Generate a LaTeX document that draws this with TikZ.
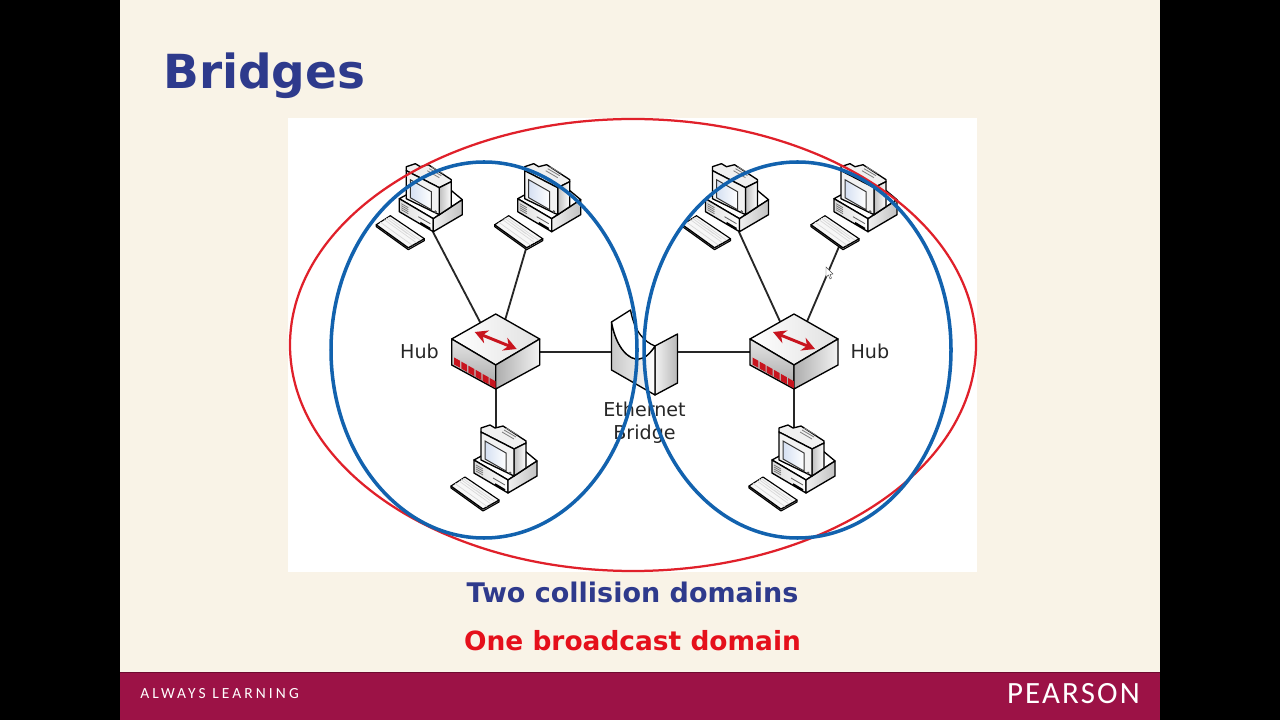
\documentclass[tikz,border=0pt]{standalone}
\usepackage{fontspec}
\setmainfont{DejaVu Sans}
\newfontfamily\footspaced[LetterSpace=20]{Carlito}
\newfontfamily\logofont[LetterSpace=7]{Carlito}
\usetikzlibrary{positioning, arrows.meta}
\definecolor{slidebg}{HTML}{F9F3E7}
\definecolor{footbar}{HTML}{9C1246}
\definecolor{footedge}{HTML}{6E0A30}
\definecolor{titleblue}{HTML}{2E3A8C}
\definecolor{ringblue}{HTML}{1262AE}
\definecolor{ringred}{HTML}{E0202A}
\definecolor{textred}{HTML}{E5101B}
\definecolor{portred}{HTML}{C8141E}
\definecolor{screenblue}{HTML}{D5E0F2}

\begin{document}
\begin{tikzpicture}[
    x=0.025cm, y=-0.025cm,
    % Define the style for each block
    devicebox/.style={rectangle, inner sep=0pt, outer sep=0pt},
    port/.style={inner sep=0pt, outer sep=0pt, minimum size=0pt},
    devline/.style={draw=black, line width=0.95pt, line join=round},
    connector/.style={draw=black!85, line width=1.3pt},
    hublabel/.style={inner sep=0pt, yshift=0.6pt, font=\fontsize{13.6}{16.4}\selectfont, text=black!85},
    bridgelabel/.style={inner sep=0pt, align=center, font=\fontsize{13.6}{16.4}\selectfont, text=black!85},
    domainline/.style={inner sep=0pt},
    ringB/.style={draw=ringblue, line width=2.5pt},
    ringR/.style={draw=ringred, line width=1.6pt},
    % One desktop computer, origin at the lowest corner of its base
    computer/.pic={
        \path[devline, fill=white] (-34,-33) -- (-10,-46) -- (17,-42) -- (29,-32) -- (0,-13) -- cycle;
        \path[devline, left color=black!14, right color=white] (-34,-33) -- (0,-13) -- (0,0) -- (-34,-20) -- cycle;
        \path[devline, left color=black!6, right color=black!24] (0,-13) -- (29,-32) -- (29,-17) -- (0,0) -- cycle;
        \draw[black!55, line width=0.5pt] (-32,-28) -- (-25,-24) (-32,-26) -- (-25,-22) (-32,-24) -- (-25,-20) (-32,-22) -- (-25,-18);
        \draw[black!60, line width=0.6pt] (-15,-15) -- (-3,-8);
        \draw[black, line width=1.2pt] (-13,-9) -- (-3,-3);
        \path[devline, fill=black!6] (-27,-61) -- (-27,-65) -- (-18,-68) -- (-13,-65) -- (-5,-67) -- (18,-52) -- (18,-50) -- (6,-44) -- cycle;
        \path[devline, left color=black!25, right color=white] (6,-44) -- (18,-50) -- (18,-25) -- (6,-17) -- cycle;
        \path[devline, fill=black!5] (-27,-61) -- (6,-44) -- (6,-17) -- (-27,-33) -- cycle;
        \path[draw=black!80, line width=0.7pt, left color=screenblue, right color=white] (-23,-52) -- (-2,-40) -- (-2,-22) -- (-23,-34) -- cycle;
        \draw[black!50, line width=0.6pt] (-4,-63) -- (8,-56) (-2,-65) -- (10,-58) (-6,-61) -- (6,-54);
        \draw[black!70, line width=0.5pt] (2,-20) circle (1);
        \path[devline, line width=0.8pt, fill=black!12] (-57,-7) -- (-25,16) -- (-9,7) -- (-9,9) -- (-25,18) -- (-57,-5) -- cycle;
        \path[devline, line width=0.8pt, fill=black!3] (-57,-7) -- (-43,-16) -- (-9,7) -- (-25,16) -- cycle;
        \draw[black!15, line width=0.5pt] (-53,-9.5) -- (-21,13.5) (-49,-12) -- (-17,11) (-45,-14.5) -- (-13,8.5)
            (-47,-13.5) -- (-33,-3) (-40,-8.5) -- (-26,2) (-32,-3) -- (-18,7.5);
    },
    % One hub, origin at the centre of its outline
    hub/.pic={
        \path[devline, left color=white, right color=black!12] (0,-38) -- (44,-13) -- (0,13) -- (-44,-13) -- cycle;
        \path[devline, top color=black!10, bottom color=black!35] (-44,-13) -- (0,13) -- (0,37) -- (-44,13) -- cycle;
        \path[devline, left color=black!32, right color=black!5] (0,13) -- (44,-13) -- (44,13) -- (0,37) -- cycle;
        \foreach \n in {0,...,5}
            \fill[portred] (-41.5+7.1*\n,5.5+4.1*\n) -- ++(5.9,3.3) -- ++(0,7) -- ++(-5.9,-3.3) -- cycle;
        \draw[portred, line width=2.1pt, {Stealth[length=3.2mm, width=3.4mm]}-{Stealth[length=3.2mm, width=3.4mm]}] (-21,-20) -- (21,-3);
    },
    % The bridge block, origin at the centre of its outline
    bridge/.pic={
        \path[devline, left color=black!5, right color=black!28] (10.5,-6) -- (33,-18) -- (33,31) -- (10.5,43) -- cycle;
        \path[devline, left color=black!22, right color=white] (-33,-30) .. controls (-28,-3) and (-15,8) .. (-6,7) .. controls (0,7) and (6,1) .. (10.5,-6) -- (10.5,43) -- (-33,18) -- cycle;
        \path[devline, fill=white] (-33,-30) -- (-14,-42) .. controls (-10,-20) and (0,-10) .. (10.5,-6) .. controls (6,1) and (0,7) .. (-6,7) .. controls (-15,8) and (-28,-3) .. (-33,-30) -- cycle;
    }
]

% The slide behind the picture
\fill[black] (0,0) rectangle (1280,720);
\fill[slidebg] (120,0) rectangle (1160,720);
\fill[white] (288,118) rectangle (977,572);
\fill[footbar] (120,672) rectangle (1160,720);
\fill[footedge] (120,671.5) rectangle (1160,673);

% Place nodes using explicit positioning
\node [devicebox, minimum width=2.2cm, minimum height=1.88cm] (HubL) at (495.7,352) {};
\node [devicebox, minimum width=2.2cm, minimum height=1.88cm] (HubR) at (794,352) {};
\node [devicebox, minimum width=1.65cm, minimum height=2.15cm] (Bridge) at (644.5,352) {};

\node [port] (PcA) at (433,232) {};
\node [port] (PcB) at (528,242) {};
\node [port] (PcC) at (739,232) {};
\node [port] (PcD) at (841,242) {};
\node [port] (PcE) at (495.7,440) {};
\node [port] (PcF) at (794,440) {};

% Draw connectors first, the devices cover their ends
\draw [connector] (PcA) -- (HubL.center);
\draw [connector] (PcB) -- (HubL.center);
\draw [connector] (PcE) -- (HubL.center);
\draw [connector] (HubL.center) -- (Bridge.center);
\draw [connector] (Bridge.center) -- (HubR.center);
\draw [connector] (PcC) -- (HubR.center);
\draw [connector] (PcD) -- (HubR.center);
\draw [connector] (PcF) -- (HubR.center);

\pic at (433.3,231.7) {computer};
\pic at (551.7,231.7) {computer};
\pic at (739.5,231.7) {computer};
\pic at (868,231.7) {computer};
\pic at (508,493) {computer};
\pic at (806,493) {computer};
\pic at (HubL) {hub};
\pic at (HubR) {hub};
\pic at (Bridge) {bridge};

\node [hublabel, left=0.315cm of HubL] (HubLLabel) {Hub};
\node [hublabel, right=0.305cm of HubR] (HubRLabel) {Hub};
\node [bridgelabel, below=0.16cm of Bridge] (BridgeLabel) {Ethernet\\Bridge};

% The two kinds of domain
\draw [ringR] (633,345) ellipse (343 and 226);
\draw [ringB] (484,350) ellipse (153 and 188);
\draw [ringB] (797.5,350) ellipse (153.5 and 188);

% Mouse pointer
\path [draw=black!70, fill=white, line width=0.3pt] (826,267) -- (826,277) -- (828.5,275) -- (830,279) -- (831.5,278) -- (830,274.5) -- (833,274) -- cycle;

% Slide texts
\node [anchor=base west, inner sep=0pt, text=titleblue, font=\fontsize{33.4}{36}\selectfont\bfseries] (Title) at (163,88.5) {Bridges};
\node [domainline, anchor=base, text=titleblue, font=\fontsize{19.2}{22}\selectfont\bfseries] (DomainA) at (632.5,602.5) {Two collision domains};
\node [domainline, below=0.68cm of DomainA, text=textred, font=\fontsize{18.8}{22}\selectfont\bfseries] (DomainB) {One broadcast domain};
\node [anchor=base west, inner sep=0pt, text=white, font=\fontsize{11}{13}\footspaced] (Slogan) at (140,698) {ALWAYS LEARNING};
\node [anchor=base east, inner sep=0pt, text=white, font=\fontsize{22}{24}\logofont] (Logo) at (1140,703) {PEARSON};

\end{tikzpicture}
\end{document}
